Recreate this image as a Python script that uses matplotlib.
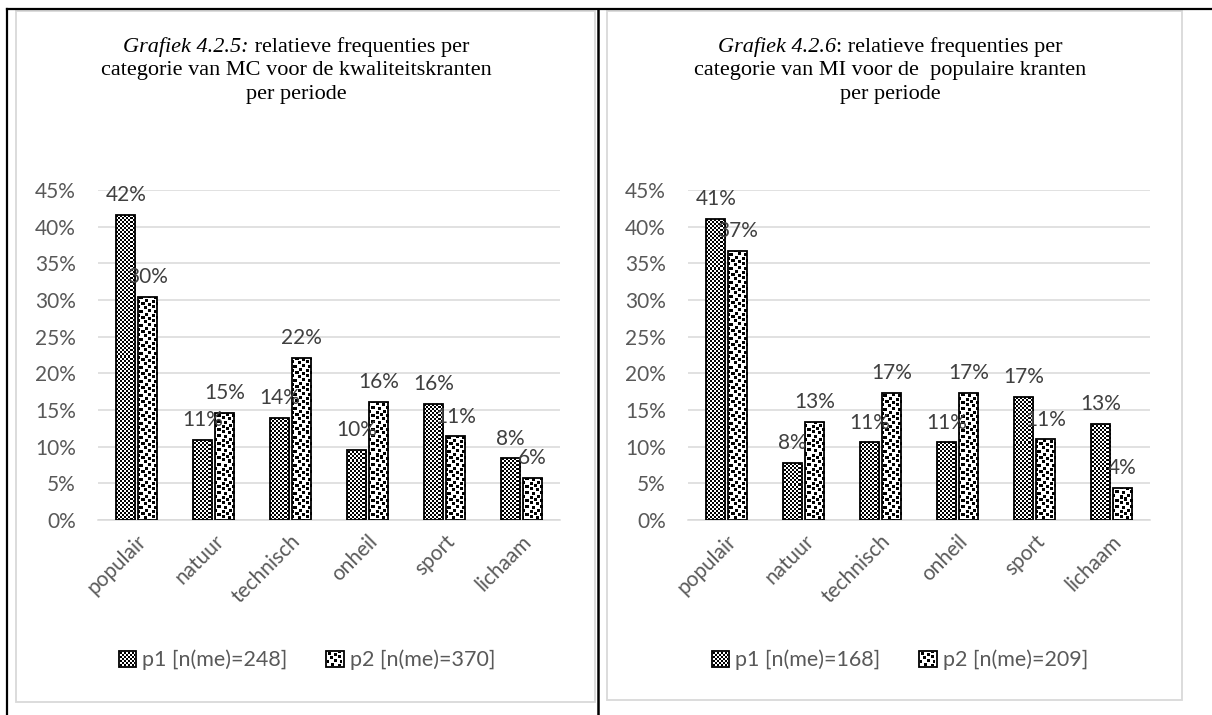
import matplotlib
matplotlib.use("Agg")
import matplotlib.pyplot as plt
from matplotlib.patches import Rectangle
from matplotlib.lines import Line2D
import numpy as np

categories = ["populair", "natuur", "technisch", "onheil", "sport", "lichaam"]
left_p1 = [41.6, 10.9, 13.9, 9.6, 15.8, 8.4]
left_p2 = [30.4, 14.6, 22.1, 16.1, 11.4, 5.7]
right_p1 = [41.1, 7.8, 10.6, 10.6, 16.8, 13.1]
right_p2 = [36.7, 13.4, 17.3, 17.3, 11.0, 4.4]
left_legend = ["p1 [n(me)=248]", "p2 [n(me)=370]"]
right_legend = ["p1 [n(me)=168]", "p2 [n(me)=209]"]
yticks = [0, 5, 10, 15, 20, 25, 30, 35, 40, 45]

W, H = 1212, 715
fig = plt.figure(figsize=(W / 100, H / 100), dpi=100)

SANS = "Lato"
SERIF = "Liberation Serif"
GRAY = "#595959"
GRID = "#d9d9d9"
FS = 15

# fill patterns (1 = black pixel)
tile_p1 = np.array([[1, 1, 0, 0],
                    [1, 1, 0, 0],
                    [0, 0, 1, 1],
                    [0, 0, 1, 1]])
tile_p2 = np.zeros((14, 14), dtype=int)
for (r, c), (dr, dc) in zip([(0, 0), (0, 7), (4, 3), (4, 10), (7, 0), (7, 7), (11, 4), (11, 11)],
                            [(0, 1), (1, 0), (0, 0), (-1, 1), (1, -1), (0, 0), (0, 0), (1, 0)]):
    for i in range(3):
        for j in range(3):
            tile_p2[(r + dr + i) % 14, (c + dc + j) % 14] = 1


def pattern_rgba(tile, h, w):
    reps = (h // tile.shape[0] + 1, w // tile.shape[1] + 1)
    a = np.tile(tile, reps)[:h, :w]
    rgba = np.ones((h, w, 4))
    rgba[..., :3] = np.where(a[..., None] == 1, 0.0, 1.0)
    return rgba


def fx(px):
    return px / W


def fy(py):
    return 1 - py / H


# outer table lines
fig.add_artist(Line2D([fx(7), fx(1212)], [fy(9), fy(9)], color="black", lw=1.6))
fig.add_artist(Line2D([fx(7), fx(7)], [fy(9), fy(715)], color="black", lw=1.6))
fig.add_artist(Line2D([fx(598), fx(598)], [fy(9), fy(715)], color="black", lw=1.8))

# chart frames
for (x0, x1, y1) in [(16, 595, 702), (607, 1182, 700)]:
    fig.add_artist(Rectangle((fx(x0), fy(y1)), fx(x1 - x0), (y1 - 11) / H,
                             fill=False, edgecolor=GRID, lw=1.3))

AX_W, AX_H = 462, 330
legends = []


def draw_chart(left_px, p1, p2, legend_labels, frame_center):
    ax = fig.add_axes([fx(left_px), fy(520), fx(AX_W), AX_H / H])
    x = np.arange(len(categories))
    bw = 0.25
    off = 0.14
    ax.set_xlim(-0.5, len(categories) - 0.5)
    ax.set_ylim(0, 45)
    ax.set_autoscale_on(False)
    b1 = ax.bar(x - off, p1, bw, facecolor="none", edgecolor="black", lw=1.3,
                zorder=4, label=legend_labels[0])
    b2 = ax.bar(x + off, p2, bw, facecolor="none", edgecolor="black", lw=1.3,
                zorder=4, label=legend_labels[1])
    for bars, tile in [(b1, tile_p1), (b2, tile_p2)]:
        img = pattern_rgba(tile, AX_H, AX_W)
        for rect in bars:
            im = ax.imshow(img, extent=(-0.5, len(categories) - 0.5, 0, 45),
                           aspect="auto", interpolation="nearest", origin="upper",
                           zorder=3)
            im.set_clip_path(rect)
    for bars, vals in [(b1, p1), (b2, p2)]:
        for rect, v in zip(bars, vals):
            ax.annotate(f"{int(v + 0.5)}%", (rect.get_x() + rect.get_width() / 2, v),
                        xytext=(0, 7), textcoords="offset points", ha="center",
                        va="bottom", fontsize=FS, color="#404040", family=SANS,
                        zorder=5)
    ax.set_yticks(yticks)
    ax.set_yticklabels([f"{t}%" for t in yticks])
    ax.set_xticks(x)
    ax.set_xticklabels(categories, rotation=45, ha="right", rotation_mode="anchor")
    ax.tick_params(length=0, labelsize=FS, labelcolor=GRAY)
    ax.tick_params(axis="y", pad=16)
    ax.tick_params(axis="x", pad=8)
    for lab in ax.get_xticklabels() + ax.get_yticklabels():
        lab.set_family(SANS)
    ax.grid(axis="y", color=GRID, lw=1.1, zorder=0)
    for s in ["top", "right", "left"]:
        ax.spines[s].set_visible(False)
    ax.spines["bottom"].set_color(GRID)
    ax.spines["bottom"].set_linewidth(1.1)
    leg = fig.legend(handles=[b1, b2], loc="center",
                     bbox_to_anchor=(fx(frame_center), fy(660)),
                     ncol=2, frameon=False, handlelength=0.8,
                     handleheight=0.8, handletextpad=0.3, columnspacing=1.8,
                     prop={"family": SANS, "size": FS + 0.5})
    for t in leg.get_texts():
        t.set_color(GRAY)
    legends.append(leg)
    return ax


draw_chart(98, left_p1, left_p2, left_legend, 307)
draw_chart(688, right_p1, right_p2, right_legend, 900)

# titles
title_lines_left = [
    [("Grafiek 4.2.5:", "italic"), (" relatieve frequenties per", "normal")],
    [("categorie van MC voor de kwaliteitskranten", "normal")],
    [("per periode", "normal")],
]
title_lines_right = [
    [("Grafiek 4.2.6", "italic"), (": relatieve frequenties per", "normal")],
    [("categorie van MI voor de  populaire kranten", "normal")],
    [("per periode", "normal")],
]
line_y = [47, 71, 95]
TFS = 16

fig.canvas.draw()
renderer = fig.canvas.get_renderer()


def place_title(lines, cx):
    for parts, ly in zip(lines, line_y):
        texts = []
        for s, style in parts:
            t = fig.text(0, fy(ly), s, fontsize=TFS, family=SERIF, style=style,
                         ha="left", va="center", color="black")
            texts.append(t)
        widths = [t.get_window_extent(renderer).width for t in texts]
        total = sum(widths)
        xstart = cx - total / 2
        for t, w in zip(texts, widths):
            t.set_x(fx(xstart))
            xstart += w


place_title(title_lines_left, 296)
place_title(title_lines_right, 890)

# legend swatch patterns
for leg in legends:
    for handle, tile in zip(leg.legend_handles, [tile_p1, tile_p2]):
        bb = handle.get_window_extent(renderer)
        x0, y0 = int(round(bb.x0)) + 1, int(round(bb.y0)) + 1
        w, h = int(round(bb.width)) - 2, int(round(bb.height)) - 2
        if w > 0 and h > 0:
            fig.figimage(pattern_rgba(tile, h, w), xo=x0, yo=y0, origin="upper",
                         zorder=10)

fig.savefig("out.png", dpi=100)
